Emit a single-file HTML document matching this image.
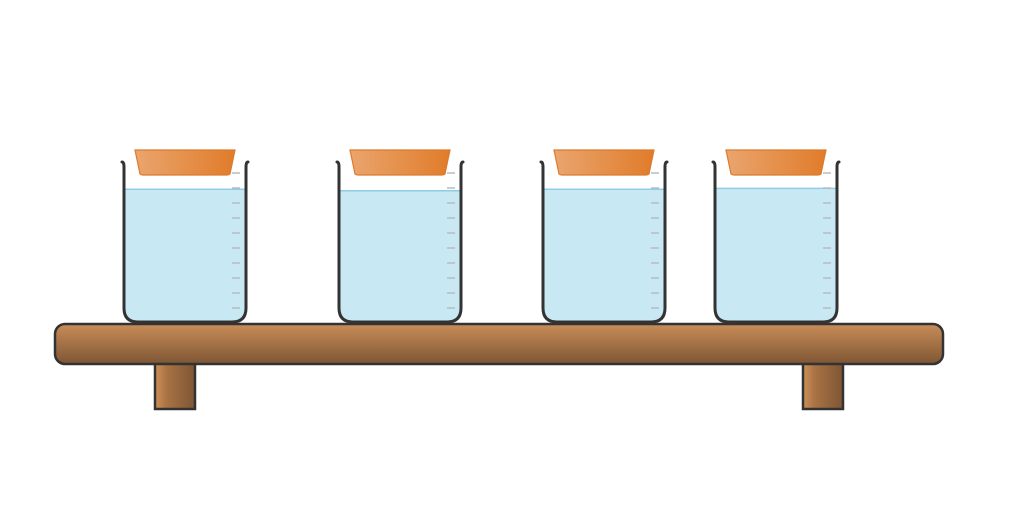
<!DOCTYPE html>
<html><head><meta charset="utf-8"><style>
html,body{margin:0;padding:0;background:#fff;}
svg{display:block;font-family:"Liberation Sans",sans-serif;}
</style></head><body>
<svg id="s" width="1018" height="524" viewBox="0 0 1018 524">
<defs>
<linearGradient id="lid" x1="0" x2="1" y1="0" y2="0"><stop offset="0" stop-color="#eaa56e"/><stop offset="1" stop-color="#e07c2a"/></linearGradient>
<linearGradient id="wood" x1="0" x2="0" y1="0" y2="1"><stop offset="0" stop-color="#c98d58"/><stop offset="1" stop-color="#7e5634"/></linearGradient>
<linearGradient id="leg" x1="0" x2="1" y1="0" y2="0"><stop offset="0" stop-color="#cf9158"/><stop offset="0.3" stop-color="#a87244"/><stop offset="1" stop-color="#7e5634"/></linearGradient>
</defs>
<g id="shelf">
<rect x="155" y="360" width="40" height="49" fill="url(#leg)" stroke="#333" stroke-width="2.5"/>
<rect x="803" y="360" width="40" height="49" fill="url(#leg)" stroke="#333" stroke-width="2.5"/>
<rect x="55" y="324" width="888" height="40" rx="10" fill="url(#wood)" stroke="#333" stroke-width="2.5"/>
</g>
<g id="beakers"></g>
</svg>
<script>
const beakerCenters = [185, 400, 604, 776];
const waterLevels = [0.83, 0.82, 0.83, 0.835];
const NS = "http://www.w3.org/2000/svg";
const gB = document.getElementById('beakers');
const topY = 162, botY = 322, halfW = 61;
function yOf(v){ return botY - v*(botY-topY); }
function mk(tag, attrs, parent){ const e=document.createElementNS(NS,tag); for(const k in attrs) e.setAttribute(k,attrs[k]); parent.appendChild(e); return e; }
beakerCenters.forEach((cx,i)=>{
  const b = mk('g',{},gB);
  
  
  const L=cx-halfW, R=cx+halfW, wy=yOf(waterLevels[i]);
  const w = mk('path',{d:`M${L} ${wy} L${R} ${wy} L${R} ${botY-14} Q${R} ${botY} ${R-14} ${botY} L${L+14} ${botY} Q${L} ${botY} ${L} ${botY-14} Z`,fill:'#c8e8f4'},b);
  
  
  mk('line',{x1:L,x2:R,y1:wy,y2:wy,stroke:'#8fcde6','stroke-width':1.5},b);
  for(let k=0;k<10;k++){
    const ty=173+k*15;
    mk('line',{x1:R-14,x2:R-6,y1:ty,y2:ty,stroke:'#b8bcc0','stroke-width':1.5},b);
  }
  const o = mk('path',{d:`M${L-2} ${topY} Q${L} ${topY} ${L} ${topY+5} L${L} ${botY-14} Q${L} ${botY} ${L+14} ${botY} L${R-14} ${botY} Q${R} ${botY} ${R} ${botY-14} L${R} ${topY+5} Q${R} ${topY} ${R+2} ${topY}`,fill:'none',stroke:'#333','stroke-width':3,'stroke-linecap':'round'},b);
  
  
  const lid = mk('path',{d:`M${cx-50} 150 L${cx+50} 150 L${cx+45} 174 Q${cx+44} 175 ${cx+42} 175 L${cx-42} 175 Q${cx-44} 175 ${cx-45} 174 Z`,fill:'url(#lid)',stroke:'#dc7a2e','stroke-width':1.2},b);
  
  
});
</script>
</body></html>
